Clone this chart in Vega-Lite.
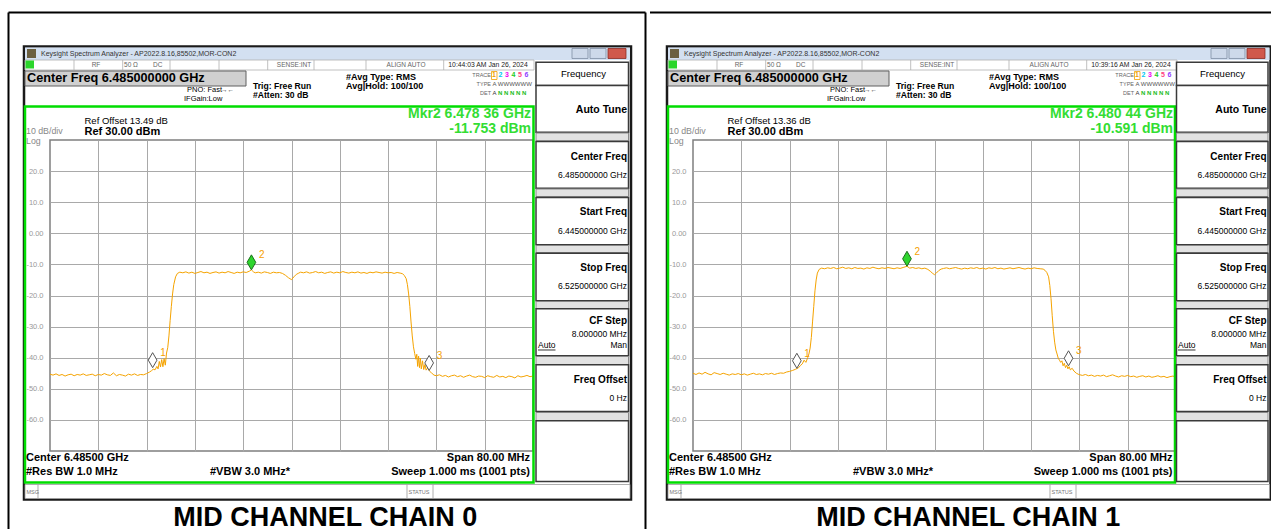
{
"$schema": "https://vega.github.io/schema/vega-lite/v6.json",
"padding": 0,
"spacing": 0,
"bounds": "full",
"background": "white",
"config": {
  "view": {"stroke": "#7f7f7f", "strokeWidth": 1.5},
  "text": {"font": "Liberation Sans", "baseline": "middle", "align": "left", "color": "black", "fontSize": 9}
},
"datasets": {
  "one": [{}],
  "markers": [
    {"chain":0,"mkr":"1","freq":6462.0,"dbm":-43.2},
    {"chain":0,"mkr":"2","freq":6478.36,"dbm":-11.753},
    {"chain":0,"mkr":"3","freq":6507.8,"dbm":-44.1},
    {"chain":1,"mkr":"1","freq":6462.2,"dbm":-43.4},
    {"chain":1,"mkr":"2","freq":6480.44,"dbm":-10.591},
    {"chain":1,"mkr":"3","freq":6507.2,"dbm":-42.6}
  ],
  "trace": [
    {"chain":0,"freq":6445.0,"dbm":-45.3},{"chain":0,"freq":6445.5,"dbm":-45.6},{"chain":0,"freq":6446.0,"dbm":-45.2},{"chain":0,"freq":6446.5,"dbm":-45.7},
    {"chain":0,"freq":6447.0,"dbm":-45.4},{"chain":0,"freq":6447.5,"dbm":-45.9},{"chain":0,"freq":6448.0,"dbm":-45.5},{"chain":0,"freq":6448.5,"dbm":-45.3},
    {"chain":0,"freq":6449.0,"dbm":-45.8},{"chain":0,"freq":6449.5,"dbm":-45.4},{"chain":0,"freq":6450.0,"dbm":-45.6},{"chain":0,"freq":6450.5,"dbm":-45.2},
    {"chain":0,"freq":6451.0,"dbm":-45.7},{"chain":0,"freq":6451.5,"dbm":-45.5},{"chain":0,"freq":6452.0,"dbm":-45.3},{"chain":0,"freq":6452.5,"dbm":-45.8},
    {"chain":0,"freq":6453.0,"dbm":-45.4},{"chain":0,"freq":6453.5,"dbm":-45.6},{"chain":0,"freq":6454.0,"dbm":-45.1},{"chain":0,"freq":6454.5,"dbm":-45.5},
    {"chain":0,"freq":6455.0,"dbm":-45.7},{"chain":0,"freq":6455.5,"dbm":-44.9},{"chain":0,"freq":6456.0,"dbm":-45.8},{"chain":0,"freq":6456.5,"dbm":-45.4},
    {"chain":0,"freq":6457.0,"dbm":-45.6},{"chain":0,"freq":6457.5,"dbm":-45.9},{"chain":0,"freq":6458.0,"dbm":-45.3},{"chain":0,"freq":6458.5,"dbm":-45.6},
    {"chain":0,"freq":6459.0,"dbm":-45.2},{"chain":0,"freq":6459.5,"dbm":-45.7},{"chain":0,"freq":6460.0,"dbm":-45.4},{"chain":0,"freq":6460.5,"dbm":-45.5},
    {"chain":0,"freq":6461.0,"dbm":-45.1},{"chain":0,"freq":6461.5,"dbm":-44.6},{"chain":0,"freq":6461.8,"dbm":-44.2},{"chain":0,"freq":6462.1,"dbm":-43.7},
    {"chain":0,"freq":6462.4,"dbm":-43.9},{"chain":0,"freq":6462.7,"dbm":-42.8},{"chain":0,"freq":6462.9,"dbm":-43.6},{"chain":0,"freq":6463.1,"dbm":-41.2},
    {"chain":0,"freq":6463.3,"dbm":-43.0},{"chain":0,"freq":6463.5,"dbm":-40.6},{"chain":0,"freq":6463.7,"dbm":-42.9},{"chain":0,"freq":6463.9,"dbm":-40.3},
    {"chain":0,"freq":6464.1,"dbm":-42.4},{"chain":0,"freq":6464.3,"dbm":-38.5},{"chain":0,"freq":6464.5,"dbm":-36.8},{"chain":0,"freq":6464.7,"dbm":-33.0},
    {"chain":0,"freq":6464.9,"dbm":-28.0},{"chain":0,"freq":6465.1,"dbm":-23.5},{"chain":0,"freq":6465.3,"dbm":-19.5},{"chain":0,"freq":6465.5,"dbm":-16.5},
    {"chain":0,"freq":6465.8,"dbm":-14.0},{"chain":0,"freq":6466.1,"dbm":-12.9},{"chain":0,"freq":6466.5,"dbm":-12.5},{"chain":0,"freq":6467.0,"dbm":-12.7},
    {"chain":0,"freq":6467.5,"dbm":-12.4},{"chain":0,"freq":6468.0,"dbm":-12.8},{"chain":0,"freq":6468.5,"dbm":-12.5},{"chain":0,"freq":6469.0,"dbm":-12.9},
    {"chain":0,"freq":6469.5,"dbm":-12.6},{"chain":0,"freq":6470.0,"dbm":-12.3},{"chain":0,"freq":6470.5,"dbm":-12.7},{"chain":0,"freq":6471.0,"dbm":-12.5},
    {"chain":0,"freq":6471.5,"dbm":-12.9},{"chain":0,"freq":6472.0,"dbm":-12.6},{"chain":0,"freq":6472.5,"dbm":-12.4},{"chain":0,"freq":6473.0,"dbm":-12.8},
    {"chain":0,"freq":6473.5,"dbm":-12.5},{"chain":0,"freq":6474.0,"dbm":-12.7},{"chain":0,"freq":6474.5,"dbm":-12.3},{"chain":0,"freq":6475.0,"dbm":-12.6},
    {"chain":0,"freq":6475.5,"dbm":-12.9},{"chain":0,"freq":6476.0,"dbm":-12.5},{"chain":0,"freq":6476.5,"dbm":-12.7},{"chain":0,"freq":6477.0,"dbm":-12.4},
    {"chain":0,"freq":6477.5,"dbm":-12.6},{"chain":0,"freq":6478.0,"dbm":-12.2},{"chain":0,"freq":6478.36,"dbm":-11.75},{"chain":0,"freq":6478.7,"dbm":-12.4},
    {"chain":0,"freq":6479.0,"dbm":-12.7},{"chain":0,"freq":6479.5,"dbm":-12.5},{"chain":0,"freq":6480.0,"dbm":-12.8},{"chain":0,"freq":6480.5,"dbm":-12.4},
    {"chain":0,"freq":6481.0,"dbm":-12.6},{"chain":0,"freq":6481.5,"dbm":-12.9},{"chain":0,"freq":6482.0,"dbm":-12.5},{"chain":0,"freq":6482.5,"dbm":-12.7},
    {"chain":0,"freq":6483.0,"dbm":-12.6},{"chain":0,"freq":6483.5,"dbm":-12.9},{"chain":0,"freq":6484.0,"dbm":-13.5},{"chain":0,"freq":6484.5,"dbm":-14.3},
    {"chain":0,"freq":6485.0,"dbm":-14.9},{"chain":0,"freq":6485.4,"dbm":-14.0},{"chain":0,"freq":6485.8,"dbm":-13.2},{"chain":0,"freq":6486.2,"dbm":-12.8},
    {"chain":0,"freq":6486.5,"dbm":-12.5},{"chain":0,"freq":6487.0,"dbm":-12.7},{"chain":0,"freq":6487.5,"dbm":-12.4},{"chain":0,"freq":6488.0,"dbm":-12.8},
    {"chain":0,"freq":6488.5,"dbm":-12.6},{"chain":0,"freq":6489.0,"dbm":-12.3},{"chain":0,"freq":6489.5,"dbm":-12.7},{"chain":0,"freq":6490.0,"dbm":-12.5},
    {"chain":0,"freq":6490.5,"dbm":-12.9},{"chain":0,"freq":6491.0,"dbm":-12.6},{"chain":0,"freq":6491.5,"dbm":-12.4},{"chain":0,"freq":6492.0,"dbm":-12.8},
    {"chain":0,"freq":6492.5,"dbm":-12.5},{"chain":0,"freq":6493.0,"dbm":-12.7},{"chain":0,"freq":6493.5,"dbm":-12.3},{"chain":0,"freq":6494.0,"dbm":-12.6},
    {"chain":0,"freq":6494.5,"dbm":-12.8},{"chain":0,"freq":6495.0,"dbm":-12.5},{"chain":0,"freq":6495.5,"dbm":-12.7},{"chain":0,"freq":6496.0,"dbm":-12.4},
    {"chain":0,"freq":6496.5,"dbm":-12.8},{"chain":0,"freq":6497.0,"dbm":-12.6},{"chain":0,"freq":6497.5,"dbm":-12.9},{"chain":0,"freq":6498.0,"dbm":-12.5},
    {"chain":0,"freq":6498.5,"dbm":-12.7},{"chain":0,"freq":6499.0,"dbm":-12.4},{"chain":0,"freq":6499.5,"dbm":-12.6},{"chain":0,"freq":6500.0,"dbm":-12.8},
    {"chain":0,"freq":6500.5,"dbm":-12.5},{"chain":0,"freq":6501.0,"dbm":-12.7},{"chain":0,"freq":6501.5,"dbm":-12.6},{"chain":0,"freq":6502.0,"dbm":-12.9},
    {"chain":0,"freq":6502.5,"dbm":-12.6},{"chain":0,"freq":6503.0,"dbm":-12.8},{"chain":0,"freq":6503.4,"dbm":-13.0},{"chain":0,"freq":6503.7,"dbm":-13.6},
    {"chain":0,"freq":6504.0,"dbm":-14.6},{"chain":0,"freq":6504.2,"dbm":-16.5},{"chain":0,"freq":6504.4,"dbm":-19.5},{"chain":0,"freq":6504.6,"dbm":-23.5},
    {"chain":0,"freq":6504.8,"dbm":-28.5},{"chain":0,"freq":6505.0,"dbm":-33.0},{"chain":0,"freq":6505.2,"dbm":-36.5},{"chain":0,"freq":6505.4,"dbm":-38.6},
    {"chain":0,"freq":6505.6,"dbm":-40.5},{"chain":0,"freq":6505.75,"dbm":-38.9},{"chain":0,"freq":6505.9,"dbm":-42.8},{"chain":0,"freq":6506.05,"dbm":-39.5},
    {"chain":0,"freq":6506.2,"dbm":-43.2},{"chain":0,"freq":6506.35,"dbm":-40.2},{"chain":0,"freq":6506.5,"dbm":-43.6},{"chain":0,"freq":6506.7,"dbm":-41.0},
    {"chain":0,"freq":6506.9,"dbm":-43.8},{"chain":0,"freq":6507.1,"dbm":-42.2},{"chain":0,"freq":6507.3,"dbm":-44.0},{"chain":0,"freq":6507.6,"dbm":-43.2},
    {"chain":0,"freq":6507.9,"dbm":-44.4},{"chain":0,"freq":6508.2,"dbm":-44.9},{"chain":0,"freq":6508.6,"dbm":-45.6},{"chain":0,"freq":6509.0,"dbm":-45.8},
    {"chain":0,"freq":6509.5,"dbm":-45.5},{"chain":0,"freq":6510.0,"dbm":-46.0},{"chain":0,"freq":6510.5,"dbm":-45.7},{"chain":0,"freq":6511.0,"dbm":-46.2},
    {"chain":0,"freq":6511.5,"dbm":-45.8},{"chain":0,"freq":6512.0,"dbm":-45.6},{"chain":0,"freq":6512.5,"dbm":-46.1},{"chain":0,"freq":6513.0,"dbm":-45.8},
    {"chain":0,"freq":6513.5,"dbm":-46.3},{"chain":0,"freq":6514.0,"dbm":-45.9},{"chain":0,"freq":6514.5,"dbm":-45.6},{"chain":0,"freq":6515.0,"dbm":-46.1},
    {"chain":0,"freq":6515.5,"dbm":-46.3},{"chain":0,"freq":6516.0,"dbm":-45.9},{"chain":0,"freq":6516.5,"dbm":-46.0},{"chain":0,"freq":6517.0,"dbm":-46.4},
    {"chain":0,"freq":6517.5,"dbm":-45.8},{"chain":0,"freq":6518.0,"dbm":-46.1},{"chain":0,"freq":6518.5,"dbm":-46.3},{"chain":0,"freq":6519.0,"dbm":-45.7},
    {"chain":0,"freq":6519.5,"dbm":-46.2},{"chain":0,"freq":6520.0,"dbm":-46.0},{"chain":0,"freq":6520.5,"dbm":-46.4},{"chain":0,"freq":6521.0,"dbm":-45.9},
    {"chain":0,"freq":6521.5,"dbm":-46.1},{"chain":0,"freq":6522.0,"dbm":-46.5},{"chain":0,"freq":6522.5,"dbm":-45.8},{"chain":0,"freq":6523.0,"dbm":-46.2},
    {"chain":0,"freq":6523.5,"dbm":-46.0},{"chain":0,"freq":6524.0,"dbm":-45.7},{"chain":0,"freq":6524.5,"dbm":-46.1},{"chain":0,"freq":6525.0,"dbm":-45.9},

    {"chain":1,"freq":6445.0,"dbm":-45.0},{"chain":1,"freq":6445.5,"dbm":-45.4},{"chain":1,"freq":6446.0,"dbm":-44.9},{"chain":1,"freq":6446.5,"dbm":-45.3},
    {"chain":1,"freq":6447.0,"dbm":-44.7},{"chain":1,"freq":6447.5,"dbm":-45.2},{"chain":1,"freq":6448.0,"dbm":-45.5},{"chain":1,"freq":6448.5,"dbm":-44.8},
    {"chain":1,"freq":6449.0,"dbm":-45.1},{"chain":1,"freq":6449.5,"dbm":-45.4},{"chain":1,"freq":6450.0,"dbm":-45.0},{"chain":1,"freq":6450.5,"dbm":-45.3},
    {"chain":1,"freq":6451.0,"dbm":-45.6},{"chain":1,"freq":6451.5,"dbm":-45.2},{"chain":1,"freq":6452.0,"dbm":-45.4},{"chain":1,"freq":6452.5,"dbm":-45.1},
    {"chain":1,"freq":6453.0,"dbm":-45.5},{"chain":1,"freq":6453.5,"dbm":-45.2},{"chain":1,"freq":6454.0,"dbm":-45.6},{"chain":1,"freq":6454.5,"dbm":-45.3},
    {"chain":1,"freq":6455.0,"dbm":-45.0},{"chain":1,"freq":6455.5,"dbm":-45.4},{"chain":1,"freq":6456.0,"dbm":-45.2},{"chain":1,"freq":6456.5,"dbm":-45.5},
    {"chain":1,"freq":6457.0,"dbm":-45.1},{"chain":1,"freq":6457.5,"dbm":-45.3},{"chain":1,"freq":6458.0,"dbm":-45.0},{"chain":1,"freq":6458.5,"dbm":-45.4},
    {"chain":1,"freq":6459.0,"dbm":-45.1},{"chain":1,"freq":6459.5,"dbm":-44.9},{"chain":1,"freq":6460.0,"dbm":-45.0},{"chain":1,"freq":6460.5,"dbm":-44.6},
    {"chain":1,"freq":6461.0,"dbm":-44.4},{"chain":1,"freq":6461.5,"dbm":-44.1},{"chain":1,"freq":6462.0,"dbm":-43.7},{"chain":1,"freq":6462.5,"dbm":-43.2},
    {"chain":1,"freq":6462.8,"dbm":-42.5},{"chain":1,"freq":6463.1,"dbm":-42.0},{"chain":1,"freq":6463.4,"dbm":-40.8},{"chain":1,"freq":6463.7,"dbm":-41.5},
    {"chain":1,"freq":6464.0,"dbm":-40.0},{"chain":1,"freq":6464.2,"dbm":-38.8},{"chain":1,"freq":6464.4,"dbm":-36.9},{"chain":1,"freq":6464.6,"dbm":-33.5},
    {"chain":1,"freq":6464.8,"dbm":-28.5},{"chain":1,"freq":6465.0,"dbm":-23.5},{"chain":1,"freq":6465.2,"dbm":-18.5},{"chain":1,"freq":6465.4,"dbm":-15.0},
    {"chain":1,"freq":6465.6,"dbm":-12.8},{"chain":1,"freq":6465.9,"dbm":-11.6},{"chain":1,"freq":6466.3,"dbm":-11.2},{"chain":1,"freq":6466.8,"dbm":-11.4},
    {"chain":1,"freq":6467.3,"dbm":-11.1},{"chain":1,"freq":6467.8,"dbm":-11.3},{"chain":1,"freq":6468.3,"dbm":-11.0},{"chain":1,"freq":6468.8,"dbm":-11.4},
    {"chain":1,"freq":6469.3,"dbm":-11.2},{"chain":1,"freq":6469.8,"dbm":-10.9},{"chain":1,"freq":6470.3,"dbm":-11.3},{"chain":1,"freq":6470.8,"dbm":-11.1},
    {"chain":1,"freq":6471.3,"dbm":-11.4},{"chain":1,"freq":6471.8,"dbm":-11.0},{"chain":1,"freq":6472.3,"dbm":-11.3},{"chain":1,"freq":6472.8,"dbm":-11.2},
    {"chain":1,"freq":6473.3,"dbm":-11.5},{"chain":1,"freq":6473.8,"dbm":-11.1},{"chain":1,"freq":6474.3,"dbm":-11.3},{"chain":1,"freq":6474.8,"dbm":-10.9},
    {"chain":1,"freq":6475.3,"dbm":-11.2},{"chain":1,"freq":6475.8,"dbm":-11.4},{"chain":1,"freq":6476.3,"dbm":-11.1},{"chain":1,"freq":6476.8,"dbm":-11.3},
    {"chain":1,"freq":6477.3,"dbm":-11.0},{"chain":1,"freq":6477.8,"dbm":-11.2},{"chain":1,"freq":6478.3,"dbm":-11.4},{"chain":1,"freq":6478.8,"dbm":-11.1},
    {"chain":1,"freq":6479.3,"dbm":-11.3},{"chain":1,"freq":6479.8,"dbm":-11.0},{"chain":1,"freq":6480.44,"dbm":-10.6},{"chain":1,"freq":6480.9,"dbm":-11.2},
    {"chain":1,"freq":6481.4,"dbm":-11.0},{"chain":1,"freq":6481.9,"dbm":-11.3},{"chain":1,"freq":6482.4,"dbm":-11.1},{"chain":1,"freq":6482.9,"dbm":-11.4},
    {"chain":1,"freq":6483.4,"dbm":-11.2},{"chain":1,"freq":6483.9,"dbm":-11.6},{"chain":1,"freq":6484.3,"dbm":-12.2},{"chain":1,"freq":6484.7,"dbm":-12.9},
    {"chain":1,"freq":6485.0,"dbm":-13.3},{"chain":1,"freq":6485.3,"dbm":-12.8},{"chain":1,"freq":6485.7,"dbm":-12.0},{"chain":1,"freq":6486.1,"dbm":-11.5},
    {"chain":1,"freq":6486.5,"dbm":-11.3},{"chain":1,"freq":6487.0,"dbm":-11.1},{"chain":1,"freq":6487.5,"dbm":-11.4},{"chain":1,"freq":6488.0,"dbm":-11.2},
    {"chain":1,"freq":6488.5,"dbm":-11.0},{"chain":1,"freq":6489.0,"dbm":-11.3},{"chain":1,"freq":6489.5,"dbm":-11.5},{"chain":1,"freq":6490.0,"dbm":-11.2},
    {"chain":1,"freq":6490.5,"dbm":-11.4},{"chain":1,"freq":6491.0,"dbm":-11.1},{"chain":1,"freq":6491.5,"dbm":-11.3},{"chain":1,"freq":6492.0,"dbm":-11.0},
    {"chain":1,"freq":6492.5,"dbm":-11.4},{"chain":1,"freq":6493.0,"dbm":-11.2},{"chain":1,"freq":6493.5,"dbm":-11.5},{"chain":1,"freq":6494.0,"dbm":-11.1},
    {"chain":1,"freq":6494.5,"dbm":-11.3},{"chain":1,"freq":6495.0,"dbm":-11.0},{"chain":1,"freq":6495.5,"dbm":-11.4},{"chain":1,"freq":6496.0,"dbm":-11.2},
    {"chain":1,"freq":6496.5,"dbm":-11.5},{"chain":1,"freq":6497.0,"dbm":-11.3},{"chain":1,"freq":6497.5,"dbm":-11.1},{"chain":1,"freq":6498.0,"dbm":-11.4},
    {"chain":1,"freq":6498.5,"dbm":-11.2},{"chain":1,"freq":6499.0,"dbm":-11.0},{"chain":1,"freq":6499.5,"dbm":-11.3},{"chain":1,"freq":6500.0,"dbm":-11.5},
    {"chain":1,"freq":6500.5,"dbm":-11.2},{"chain":1,"freq":6501.0,"dbm":-11.4},{"chain":1,"freq":6501.5,"dbm":-11.1},{"chain":1,"freq":6502.0,"dbm":-11.3},
    {"chain":1,"freq":6502.5,"dbm":-11.4},{"chain":1,"freq":6503.0,"dbm":-11.5},{"chain":1,"freq":6503.3,"dbm":-11.9},{"chain":1,"freq":6503.6,"dbm":-12.6},
    {"chain":1,"freq":6503.9,"dbm":-14.0},{"chain":1,"freq":6504.1,"dbm":-16.8},{"chain":1,"freq":6504.3,"dbm":-21.0},{"chain":1,"freq":6504.5,"dbm":-26.5},
    {"chain":1,"freq":6504.7,"dbm":-31.5},{"chain":1,"freq":6504.9,"dbm":-35.0},{"chain":1,"freq":6505.1,"dbm":-37.5},{"chain":1,"freq":6505.3,"dbm":-38.8},
    {"chain":1,"freq":6505.5,"dbm":-40.2},{"chain":1,"freq":6505.7,"dbm":-40.8},{"chain":1,"freq":6505.9,"dbm":-41.5},{"chain":1,"freq":6506.1,"dbm":-41.0},
    {"chain":1,"freq":6506.3,"dbm":-42.6},{"chain":1,"freq":6506.5,"dbm":-41.8},{"chain":1,"freq":6506.7,"dbm":-43.2},{"chain":1,"freq":6506.9,"dbm":-42.4},
    {"chain":1,"freq":6507.1,"dbm":-43.6},{"chain":1,"freq":6507.3,"dbm":-42.9},{"chain":1,"freq":6507.5,"dbm":-43.9},{"chain":1,"freq":6507.8,"dbm":-43.4},
    {"chain":1,"freq":6508.1,"dbm":-44.3},{"chain":1,"freq":6508.5,"dbm":-45.0},{"chain":1,"freq":6508.9,"dbm":-45.4},{"chain":1,"freq":6509.5,"dbm":-45.7},
    {"chain":1,"freq":6510.0,"dbm":-45.4},{"chain":1,"freq":6510.5,"dbm":-45.8},{"chain":1,"freq":6511.0,"dbm":-45.6},{"chain":1,"freq":6511.5,"dbm":-46.0},
    {"chain":1,"freq":6512.0,"dbm":-45.7},{"chain":1,"freq":6512.5,"dbm":-45.9},{"chain":1,"freq":6513.0,"dbm":-45.6},{"chain":1,"freq":6513.5,"dbm":-46.1},
    {"chain":1,"freq":6514.0,"dbm":-45.8},{"chain":1,"freq":6514.5,"dbm":-45.5},{"chain":1,"freq":6515.0,"dbm":-45.9},{"chain":1,"freq":6515.5,"dbm":-46.2},
    {"chain":1,"freq":6516.0,"dbm":-45.8},{"chain":1,"freq":6516.5,"dbm":-46.0},{"chain":1,"freq":6517.0,"dbm":-45.7},{"chain":1,"freq":6517.5,"dbm":-46.1},
    {"chain":1,"freq":6518.0,"dbm":-45.9},{"chain":1,"freq":6518.5,"dbm":-46.3},{"chain":1,"freq":6519.0,"dbm":-46.0},{"chain":1,"freq":6519.5,"dbm":-45.8},
    {"chain":1,"freq":6520.0,"dbm":-46.2},{"chain":1,"freq":6520.5,"dbm":-45.9},{"chain":1,"freq":6521.0,"dbm":-46.3},{"chain":1,"freq":6521.5,"dbm":-46.1},
    {"chain":1,"freq":6522.0,"dbm":-45.8},{"chain":1,"freq":6522.5,"dbm":-46.2},{"chain":1,"freq":6523.0,"dbm":-46.0},{"chain":1,"freq":6523.5,"dbm":-46.4},
    {"chain":1,"freq":6524.0,"dbm":-46.1},{"chain":1,"freq":6524.5,"dbm":-45.9},{"chain":1,"freq":6525.0,"dbm":-46.2}
  ]
},
"hconcat": [
{
  "width": 483, "height": 311,
  "resolve": {"axis": {"x": "independent", "y": "independent"}},
  "layer": [
    {"data":{"name":"trace"},"transform":[{"filter":"datum.chain == 0"}],"mark":{"type":"line","color":"#f5a300","strokeWidth":1,"clip":true},
     "encoding":{
       "x":{"field":"freq","type":"quantitative","scale":{"domain":[6445,6525],"nice":false,"zero":false},"axis":{"title":null,"orient":"bottom","values":[6453,6461,6469,6477,6485,6493,6501,6509,6517],"grid":true,"labels":false,"ticks":false,"domain":false,"gridColor":"#a9a9a9","gridWidth":1}},
       "y":{"field":"dbm","type":"quantitative","scale":{"domain":[-70,30],"nice":false,"zero":false},"axis":{"title":null,"orient":"left","values":[-60,-50,-40,-30,-20,-10,0,10,20],"grid":true,"ticks":false,"domain":false,"gridColor":"#a9a9a9","gridWidth":1,"labelExpr":"datum.value == 0 ? '0.00' : (datum.value < 0 ? '-' : '') + format(abs(datum.value), '.1f')","labelColor":"#999","labelFontSize":7.5,"labelFont":"Liberation Sans","labelPadding":7}}
     }},
    {"data":{"name":"one"},"mark":{"type":"rect","fill":"white","opacity":0},"encoding":{"x":{"datum":6436.884,"type":"quantitative","axis":null},"x2":{"datum":6543.799},"y":{"datum":74.534,"type":"quantitative","axis":null},"y2":{"datum":-95.563}}},
    {"data":{"name":"one"},"mark":{"type":"rule","color":"black","strokeWidth":2},"encoding":{"x":{"datum":6438.126,"type":"quantitative","axis":null},"x2":{"datum":6543.633},"y":{"datum":70.997,"type":"quantitative","axis":null}}},
    {"data":{"name":"one"},"mark":{"type":"rule","color":"black","strokeWidth":2},"encoding":{"x":{"datum":6438.126,"type":"quantitative","axis":null},"y":{"datum":70.997,"type":"quantitative","axis":null},"y2":{"datum":-95.563}}},
    {"data":{"name":"one"},"mark":{"type":"rule","color":"black","strokeWidth":2},"encoding":{"x":{"datum":6543.633,"type":"quantitative","axis":null},"y":{"datum":70.997,"type":"quantitative","axis":null},"y2":{"datum":-95.563}}},
    {"data":{"name":"one"},"mark":{"type":"rect","fill":"white","fillOpacity":0,"stroke":"#1a1a1a","strokeWidth":2.5},"encoding":{"x":{"datum":6440.694,"type":"quantitative","axis":null},"x2":{"datum":6541.232},"y":{"datum":60.064,"type":"quantitative","axis":null},"y2":{"datum":-85.595}}},
    {"data":{"name":"one"},"mark":{"type":"rect","fill":"#d3e0f1"},"encoding":{"x":{"datum":6440.859,"type":"quantitative","axis":null},"x2":{"datum":6541.066},"y":{"datum":59.743,"type":"quantitative","axis":null},"y2":{"datum":55.723}}},
    {"data":{"name":"one"},"mark":{"type":"rect","fill":"#6b6040"},"encoding":{"x":{"datum":6441.19,"type":"quantitative","axis":null},"x2":{"datum":6442.681},"y":{"datum":59.26,"type":"quantitative","axis":null},"y2":{"datum":56.367}}},
    {"data":{"name":"one"},"mark":{"type":"text","text":"Keysight Spectrum Analyzer - AP2022.8.16,85502,MOR-CON2","fontSize":7,"color":"#333"},"encoding":{"x":{"datum":6443.509,"type":"quantitative","axis":null},"y":{"datum":57.653,"type":"quantitative","axis":null}}},
    {"data":{"name":"one"},"mark":{"type":"rect","fill":"#cdd9ea","stroke":"#7f8ea3","strokeWidth":0.8},"encoding":{"x":{"datum":6531.459,"type":"quantitative","axis":null},"x2":{"datum":6534.109},"y":{"datum":59.421,"type":"quantitative","axis":null},"y2":{"datum":56.206}}},
    {"data":{"name":"one"},"mark":{"type":"rect","fill":"#cdd9ea","stroke":"#7f8ea3","strokeWidth":0.8},"encoding":{"x":{"datum":6534.441,"type":"quantitative","axis":null},"x2":{"datum":6537.091},"y":{"datum":59.421,"type":"quantitative","axis":null},"y2":{"datum":56.206}}},
    {"data":{"name":"one"},"mark":{"type":"rect","fill":"#d0584c","stroke":"#8b2a22","strokeWidth":0.8},"encoding":{"x":{"datum":6537.422,"type":"quantitative","axis":null},"x2":{"datum":6540.403},"y":{"datum":59.421,"type":"quantitative","axis":null},"y2":{"datum":56.206}}},
    {"data":{"name":"one"},"mark":{"type":"rect","fill":"white","stroke":"#b0b0b0","strokeWidth":0.8},"encoding":{"x":{"datum":6440.859,"type":"quantitative","axis":null},"x2":{"datum":6525.166},"y":{"datum":55.723,"type":"quantitative","axis":null},"y2":{"datum":52.508}}},
    {"data":{"name":"one"},"mark":{"type":"rect","fill":"#2bd62b"},"encoding":{"x":{"datum":6440.942,"type":"quantitative","axis":null},"x2":{"datum":6442.35},"y":{"datum":55.563,"type":"quantitative","axis":null},"y2":{"datum":52.991}}},
    {"data":{"name":"one"},"mark":{"type":"rule","color":"#b0b0b0","strokeWidth":0.8},"encoding":{"x":{"datum":6448.975,"type":"quantitative","axis":null},"y":{"datum":55.723,"type":"quantitative","axis":null},"y2":{"datum":52.508}}},
    {"data":{"name":"one"},"mark":{"type":"rule","color":"#b0b0b0","strokeWidth":0.8},"encoding":{"x":{"datum":6457.041,"type":"quantitative","axis":null},"y":{"datum":55.723,"type":"quantitative","axis":null},"y2":{"datum":52.508}}},
    {"data":{"name":"one"},"mark":{"type":"rule","color":"#b0b0b0","strokeWidth":0.8},"encoding":{"x":{"datum":6464.876,"type":"quantitative","axis":null},"y":{"datum":55.723,"type":"quantitative","axis":null},"y2":{"datum":52.508}}},
    {"data":{"name":"one"},"mark":{"type":"rule","color":"#b0b0b0","strokeWidth":0.8},"encoding":{"x":{"datum":6472.992,"type":"quantitative","axis":null},"y":{"datum":55.723,"type":"quantitative","axis":null},"y2":{"datum":52.508}}},
    {"data":{"name":"one"},"mark":{"type":"rule","color":"#b0b0b0","strokeWidth":0.8},"encoding":{"x":{"datum":6481.058,"type":"quantitative","axis":null},"y":{"datum":55.723,"type":"quantitative","axis":null},"y2":{"datum":52.508}}},
    {"data":{"name":"one"},"mark":{"type":"rule","color":"#b0b0b0","strokeWidth":0.8},"encoding":{"x":{"datum":6488.727,"type":"quantitative","axis":null},"y":{"datum":55.723,"type":"quantitative","axis":null},"y2":{"datum":52.508}}},
    {"data":{"name":"one"},"mark":{"type":"rule","color":"#b0b0b0","strokeWidth":0.8},"encoding":{"x":{"datum":6497.339,"type":"quantitative","axis":null},"y":{"datum":55.723,"type":"quantitative","axis":null},"y2":{"datum":52.508}}},
    {"data":{"name":"one"},"mark":{"type":"rule","color":"#b0b0b0","strokeWidth":0.8},"encoding":{"x":{"datum":6510.209,"type":"quantitative","axis":null},"y":{"datum":55.723,"type":"quantitative","axis":null},"y2":{"datum":52.508}}},
    {"data":{"name":"one"},"mark":{"type":"text","text":"RF","align":"center","fontSize":6.5,"color":"#666"},"encoding":{"x":{"datum":6452.619,"type":"quantitative","axis":null},"y":{"datum":54.116,"type":"quantitative","axis":null}}},
    {"data":{"name":"one"},"mark":{"type":"text","text":"50 Ω","align":"center","fontSize":6.5,"color":"#666"},"encoding":{"x":{"datum":6458.416,"type":"quantitative","axis":null},"y":{"datum":54.116,"type":"quantitative","axis":null}}},
    {"data":{"name":"one"},"mark":{"type":"text","text":"DC","align":"center","fontSize":6.5,"color":"#666"},"encoding":{"x":{"datum":6462.838,"type":"quantitative","axis":null},"y":{"datum":54.116,"type":"quantitative","axis":null}}},
    {"data":{"name":"one"},"mark":{"type":"text","text":"SENSE:INT","align":"center","fontSize":6.5,"color":"#666"},"encoding":{"x":{"datum":6485.414,"type":"quantitative","axis":null},"y":{"datum":54.116,"type":"quantitative","axis":null}}},
    {"data":{"name":"one"},"mark":{"type":"text","text":"ALIGN AUTO","align":"center","fontSize":6.5,"color":"#666"},"encoding":{"x":{"datum":6503.965,"type":"quantitative","axis":null},"y":{"datum":54.116,"type":"quantitative","axis":null}}},
    {"data":{"name":"one"},"mark":{"type":"text","text":"10:44:03 AM Jan 26, 2024","align":"center","fontSize":6.8,"color":"#222"},"encoding":{"x":{"datum":6517.546,"type":"quantitative","axis":null},"y":{"datum":54.116,"type":"quantitative","axis":null}}},
    {"data":{"name":"one"},"mark":{"type":"rect","fill":"#d0d0d0","stroke":"#606060","strokeWidth":1},"encoding":{"x":{"datum":6440.859,"type":"quantitative","axis":null},"x2":{"datum":6477.464},"y":{"datum":52.187,"type":"quantitative","axis":null},"y2":{"datum":47.363}}},
    {"data":{"name":"one"},"mark":{"type":"text","text":"Center Freq 6.485000000 GHz","fontSize":12.7,"fontWeight":"bold"},"encoding":{"x":{"datum":6441.19,"type":"quantitative","axis":null},"y":{"datum":49.775,"type":"quantitative","axis":null}}},
    {"data":{"name":"one"},"mark":{"type":"text","text":"PNO: Fast","fontSize":7.5},"encoding":{"x":{"datum":6467.691,"type":"quantitative","axis":null},"y":{"datum":46.077,"type":"quantitative","axis":null}}},
    {"data":{"name":"one"},"mark":{"type":"text","text":"→←","fontSize":6.5,"color":"#333"},"encoding":{"x":{"datum":6473.323,"type":"quantitative","axis":null},"y":{"datum":46.077,"type":"quantitative","axis":null}}},
    {"data":{"name":"one"},"mark":{"type":"text","text":"IFGain:Low","fontSize":7.5},"encoding":{"x":{"datum":6467.195,"type":"quantitative","axis":null},"y":{"datum":43.344,"type":"quantitative","axis":null}}},
    {"data":{"name":"one"},"mark":{"type":"text","text":"Trig: Free Run","fontSize":8.6,"fontWeight":"bold"},"encoding":{"x":{"datum":6478.623,"type":"quantitative","axis":null},"y":{"datum":47.203,"type":"quantitative","axis":null}}},
    {"data":{"name":"one"},"mark":{"type":"text","text":"#Atten: 30 dB","fontSize":8.6,"fontWeight":"bold"},"encoding":{"x":{"datum":6478.623,"type":"quantitative","axis":null},"y":{"datum":44.469,"type":"quantitative","axis":null}}},
    {"data":{"name":"one"},"mark":{"type":"text","text":"#Avg Type: RMS","fontSize":9,"fontWeight":"bold"},"encoding":{"x":{"datum":6494.027,"type":"quantitative","axis":null},"y":{"datum":50.418,"type":"quantitative","axis":null}}},
    {"data":{"name":"one"},"mark":{"type":"text","text":"Avg|Hold: 100/100","fontSize":9,"fontWeight":"bold"},"encoding":{"x":{"datum":6494.027,"type":"quantitative","axis":null},"y":{"datum":47.524,"type":"quantitative","axis":null}}},
    {"data":{"name":"one"},"mark":{"type":"text","text":"TRACE","align":"right","fontSize":5.5,"color":"#666"},"encoding":{"x":{"datum":6518.043,"type":"quantitative","axis":null},"y":{"datum":50.74,"type":"quantitative","axis":null}}},
    {"data":{"name":"one"},"mark":{"type":"text","text":"TYPE","align":"right","fontSize":5.5,"color":"#666"},"encoding":{"x":{"datum":6518.043,"type":"quantitative","axis":null},"y":{"datum":48.006,"type":"quantitative","axis":null}}},
    {"data":{"name":"one"},"mark":{"type":"text","text":"DET","align":"right","fontSize":5.5,"color":"#666"},"encoding":{"x":{"datum":6518.043,"type":"quantitative","axis":null},"y":{"datum":45.273,"type":"quantitative","axis":null}}},
    {"data":{"name":"one"},"mark":{"type":"rect","fill":"white","fillOpacity":0,"stroke":"#f0a000","strokeWidth":0.8},"encoding":{"x":{"datum":6518.126,"type":"quantitative","axis":null},"x2":{"datum":6519.037},"y":{"datum":52.026,"type":"quantitative","axis":null},"y2":{"datum":49.453}}},
    {"data":{"name":"one"},"mark":{"type":"text","text":"1","align":"center","fontSize":7,"fontWeight":"bold","color":"#f0a000"},"encoding":{"x":{"datum":6518.541,"type":"quantitative","axis":null},"y":{"datum":50.74,"type":"quantitative","axis":null}}},
    {"data":{"name":"one"},"mark":{"type":"text","text":"2","align":"center","fontSize":7,"fontWeight":"bold","color":"#00c8f0"},"encoding":{"x":{"datum":6519.617,"type":"quantitative","axis":null},"y":{"datum":50.74,"type":"quantitative","axis":null}}},
    {"data":{"name":"one"},"mark":{"type":"text","text":"3","align":"center","fontSize":7,"fontWeight":"bold","color":"#f000f0"},"encoding":{"x":{"datum":6520.694,"type":"quantitative","axis":null},"y":{"datum":50.74,"type":"quantitative","axis":null}}},
    {"data":{"name":"one"},"mark":{"type":"text","text":"4","align":"center","fontSize":7,"fontWeight":"bold","color":"#22cc22"},"encoding":{"x":{"datum":6521.77,"type":"quantitative","axis":null},"y":{"datum":50.74,"type":"quantitative","axis":null}}},
    {"data":{"name":"one"},"mark":{"type":"text","text":"5","align":"center","fontSize":7,"fontWeight":"bold","color":"#ff4080"},"encoding":{"x":{"datum":6522.847,"type":"quantitative","axis":null},"y":{"datum":50.74,"type":"quantitative","axis":null}}},
    {"data":{"name":"one"},"mark":{"type":"text","text":"6","align":"center","fontSize":7,"fontWeight":"bold","color":"#9040ff"},"encoding":{"x":{"datum":6523.923,"type":"quantitative","axis":null},"y":{"datum":50.74,"type":"quantitative","axis":null}}},
    {"data":{"name":"one"},"mark":{"type":"text","text":"A WWWWWW","fontSize":6,"color":"#555"},"encoding":{"x":{"datum":6518.292,"type":"quantitative","axis":null},"y":{"datum":48.006,"type":"quantitative","axis":null}}},
    {"data":{"name":"one"},"mark":{"type":"text","text":"A","fontSize":6,"color":"#333"},"encoding":{"x":{"datum":6518.292,"type":"quantitative","axis":null},"y":{"datum":45.273,"type":"quantitative","axis":null}}},
    {"data":{"name":"one"},"mark":{"type":"text","text":"N N N N N","fontSize":6,"fontWeight":"bold","color":"#22bb22"},"encoding":{"x":{"datum":6519.203,"type":"quantitative","axis":null},"y":{"datum":45.273,"type":"quantitative","axis":null}}},
    {"data":{"name":"one"},"mark":{"type":"rect","fill":"white","fillOpacity":0,"stroke":"#00dd00","strokeWidth":2.5},"encoding":{"x":{"datum":6440.859,"type":"quantitative","axis":null},"x2":{"datum":6525.083},"y":{"datum":40.772,"type":"quantitative","axis":null},"y2":{"datum":-80.128}}},
    {"data":{"name":"one"},"mark":{"type":"text","text":"Ref Offset 13.49 dB","fontSize":9.5},"encoding":{"x":{"datum":6450.714,"type":"quantitative","axis":null},"y":{"datum":36.109,"type":"quantitative","axis":null}}},
    {"data":{"name":"one"},"mark":{"type":"text","text":"Ref 30.00 dBm","fontSize":11,"fontWeight":"bold"},"encoding":{"x":{"datum":6450.714,"type":"quantitative","axis":null},"y":{"datum":32.733,"type":"quantitative","axis":null}}},
    {"data":{"name":"one"},"mark":{"type":"text","text":"10 dB/div","fontSize":8.8,"color":"#888"},"encoding":{"x":{"datum":6441.025,"type":"quantitative","axis":null},"y":{"datum":32.894,"type":"quantitative","axis":null}}},
    {"data":{"name":"one"},"mark":{"type":"text","text":"Log","fontSize":8.8,"color":"#888"},"encoding":{"x":{"datum":6441.025,"type":"quantitative","axis":null},"y":{"datum":29.839,"type":"quantitative","axis":null}}},
    {"data":{"name":"one"},"mark":{"type":"text","text":"Mkr2 6.478 36 GHz","align":"right","fontSize":14,"fontWeight":"bold","color":"#33dd33"},"encoding":{"x":{"datum":6524.669,"type":"quantitative","axis":null},"y":{"datum":38.36,"type":"quantitative","axis":null}}},
    {"data":{"name":"one"},"mark":{"type":"text","text":"-11.753 dBm","align":"right","fontSize":14,"fontWeight":"bold","color":"#33dd33"},"encoding":{"x":{"datum":6524.669,"type":"quantitative","axis":null},"y":{"datum":33.537,"type":"quantitative","axis":null}}},
    {"data":{"name":"one"},"mark":{"type":"rect","fill":"white","stroke":"#3a3a3a","strokeWidth":1.5},"encoding":{"x":{"datum":6525.497,"type":"quantitative","axis":null},"x2":{"datum":6540.818},"y":{"datum":55.016,"type":"quantitative","axis":null},"y2":{"datum":47.524}}},
    {"data":{"name":"one"},"mark":{"type":"rect","fill":"white","stroke":"#3a3a3a","strokeWidth":1.5},"encoding":{"x":{"datum":6525.497,"type":"quantitative","axis":null},"x2":{"datum":6540.818},"y":{"datum":47.524,"type":"quantitative","axis":null},"y2":{"datum":32.508}}},
    {"data":{"name":"one"},"mark":{"type":"rect","fill":"#e2e2e2","stroke":"#888","strokeWidth":1},"encoding":{"x":{"datum":6525.497,"type":"quantitative","axis":null},"x2":{"datum":6540.818},"y":{"datum":32.251,"type":"quantitative","axis":null},"y2":{"datum":29.743}}},
    {"data":{"name":"one"},"mark":{"type":"rect","fill":"white","stroke":"#3a3a3a","strokeWidth":1.5},"encoding":{"x":{"datum":6525.497,"type":"quantitative","axis":null},"x2":{"datum":6540.818},"y":{"datum":29.518,"type":"quantitative","axis":null},"y2":{"datum":14.502}}},
    {"data":{"name":"one"},"mark":{"type":"rect","fill":"#e2e2e2","stroke":"#888","strokeWidth":1},"encoding":{"x":{"datum":6525.497,"type":"quantitative","axis":null},"x2":{"datum":6540.818},"y":{"datum":14.244,"type":"quantitative","axis":null},"y2":{"datum":11.833}}},
    {"data":{"name":"one"},"mark":{"type":"rect","fill":"white","stroke":"#3a3a3a","strokeWidth":1.5},"encoding":{"x":{"datum":6525.497,"type":"quantitative","axis":null},"x2":{"datum":6540.818},"y":{"datum":11.511,"type":"quantitative","axis":null},"y2":{"datum":-3.698}}},
    {"data":{"name":"one"},"mark":{"type":"rect","fill":"#e2e2e2","stroke":"#888","strokeWidth":1},"encoding":{"x":{"datum":6525.497,"type":"quantitative","axis":null},"x2":{"datum":6540.818},"y":{"datum":-3.923,"type":"quantitative","axis":null},"y2":{"datum":-6.174}}},
    {"data":{"name":"one"},"mark":{"type":"rect","fill":"white","stroke":"#3a3a3a","strokeWidth":1.5},"encoding":{"x":{"datum":6525.497,"type":"quantitative","axis":null},"x2":{"datum":6540.818},"y":{"datum":-6.399,"type":"quantitative","axis":null},"y2":{"datum":-21.704}}},
    {"data":{"name":"one"},"mark":{"type":"rect","fill":"#e2e2e2","stroke":"#888","strokeWidth":1},"encoding":{"x":{"datum":6525.497,"type":"quantitative","axis":null},"x2":{"datum":6540.818},"y":{"datum":-21.929,"type":"quantitative","axis":null},"y2":{"datum":-24.18}}},
    {"data":{"name":"one"},"mark":{"type":"rect","fill":"white","stroke":"#3a3a3a","strokeWidth":1.5},"encoding":{"x":{"datum":6525.497,"type":"quantitative","axis":null},"x2":{"datum":6540.818},"y":{"datum":-24.276,"type":"quantitative","axis":null},"y2":{"datum":-39.389}}},
    {"data":{"name":"one"},"mark":{"type":"rect","fill":"#e2e2e2","stroke":"#888","strokeWidth":1},"encoding":{"x":{"datum":6525.497,"type":"quantitative","axis":null},"x2":{"datum":6540.818},"y":{"datum":-39.614,"type":"quantitative","axis":null},"y2":{"datum":-42.186}}},
    {"data":{"name":"one"},"mark":{"type":"rect","fill":"white","stroke":"#3a3a3a","strokeWidth":1.5},"encoding":{"x":{"datum":6525.497,"type":"quantitative","axis":null},"x2":{"datum":6540.818},"y":{"datum":-42.283,"type":"quantitative","axis":null},"y2":{"datum":-57.299}}},
    {"data":{"name":"one"},"mark":{"type":"rect","fill":"#e2e2e2","stroke":"#888","strokeWidth":1},"encoding":{"x":{"datum":6525.497,"type":"quantitative","axis":null},"x2":{"datum":6540.818},"y":{"datum":-57.621,"type":"quantitative","axis":null},"y2":{"datum":-60.193}}},
    {"data":{"name":"one"},"mark":{"type":"rect","fill":"white","stroke":"#3a3a3a","strokeWidth":1.5},"encoding":{"x":{"datum":6525.497,"type":"quantitative","axis":null},"x2":{"datum":6540.818},"y":{"datum":-60.289,"type":"quantitative","axis":null},"y2":{"datum":-79.807}}},
    {"data":{"name":"one"},"mark":{"type":"text","text":"Frequency","align":"center","fontSize":9.5},"encoding":{"x":{"datum":6533.364,"type":"quantitative","axis":null},"y":{"datum":51.286,"type":"quantitative","axis":null}}},
    {"data":{"name":"one"},"mark":{"type":"text","text":"Auto Tune","align":"right","fontSize":10.5,"fontWeight":"bold"},"encoding":{"x":{"datum":6540.569,"type":"quantitative","axis":null},"y":{"datum":39.711,"type":"quantitative","axis":null}}},
    {"data":{"name":"one"},"mark":{"type":"text","text":"Center Freq","align":"right","fontSize":10,"fontWeight":"bold"},"encoding":{"x":{"datum":6540.569,"type":"quantitative","axis":null},"y":{"datum":24.694,"type":"quantitative","axis":null}}},
    {"data":{"name":"one"},"mark":{"type":"text","text":"6.485000000 GHz","align":"right","fontSize":8.5},"encoding":{"x":{"datum":6540.569,"type":"quantitative","axis":null},"y":{"datum":18.81,"type":"quantitative","axis":null}}},
    {"data":{"name":"one"},"mark":{"type":"text","text":"Start Freq","align":"right","fontSize":10,"fontWeight":"bold"},"encoding":{"x":{"datum":6540.569,"type":"quantitative","axis":null},"y":{"datum":6.785,"type":"quantitative","axis":null}}},
    {"data":{"name":"one"},"mark":{"type":"text","text":"6.445000000 GHz","align":"right","fontSize":8.5},"encoding":{"x":{"datum":6540.569,"type":"quantitative","axis":null},"y":{"datum":0.804,"type":"quantitative","axis":null}}},
    {"data":{"name":"one"},"mark":{"type":"text","text":"Stop Freq","align":"right","fontSize":10,"fontWeight":"bold"},"encoding":{"x":{"datum":6540.569,"type":"quantitative","axis":null},"y":{"datum":-10.997,"type":"quantitative","axis":null}}},
    {"data":{"name":"one"},"mark":{"type":"text","text":"6.525000000 GHz","align":"right","fontSize":8.5},"encoding":{"x":{"datum":6540.569,"type":"quantitative","axis":null},"y":{"datum":-16.785,"type":"quantitative","axis":null}}},
    {"data":{"name":"one"},"mark":{"type":"text","text":"CF Step","align":"right","fontSize":10,"fontWeight":"bold"},"encoding":{"x":{"datum":6540.569,"type":"quantitative","axis":null},"y":{"datum":-28.36,"type":"quantitative","axis":null}}},
    {"data":{"name":"one"},"mark":{"type":"text","text":"8.000000 MHz","align":"right","fontSize":8.5},"encoding":{"x":{"datum":6540.569,"type":"quantitative","axis":null},"y":{"datum":-32.315,"type":"quantitative","axis":null}}},
    {"data":{"name":"one"},"mark":{"type":"text","text":"Auto","fontSize":8.5},"encoding":{"x":{"datum":6525.828,"type":"quantitative","axis":null},"y":{"datum":-36.077,"type":"quantitative","axis":null}}},
    {"data":{"name":"one"},"mark":{"type":"rule","color":"black","strokeWidth":0.8},"encoding":{"x":{"datum":6525.828,"type":"quantitative","axis":null},"x2":{"datum":6528.726},"y":{"datum":-37.524,"type":"quantitative","axis":null}}},
    {"data":{"name":"one"},"mark":{"type":"text","text":"Man","align":"right","fontSize":8.5},"encoding":{"x":{"datum":6540.569,"type":"quantitative","axis":null},"y":{"datum":-36.077,"type":"quantitative","axis":null}}},
    {"data":{"name":"one"},"mark":{"type":"text","text":"Freq Offset","align":"right","fontSize":10,"fontWeight":"bold"},"encoding":{"x":{"datum":6540.569,"type":"quantitative","axis":null},"y":{"datum":-47.106,"type":"quantitative","axis":null}}},
    {"data":{"name":"one"},"mark":{"type":"text","text":"0 Hz","align":"right","fontSize":8.5},"encoding":{"x":{"datum":6540.569,"type":"quantitative","axis":null},"y":{"datum":-53.022,"type":"quantitative","axis":null}}},
    {"data":{"name":"one"},"mark":{"type":"text","text":"Center 6.48500 GHz","fontSize":11,"fontWeight":"bold"},"encoding":{"x":{"datum":6441.025,"type":"quantitative","axis":null},"y":{"datum":-72.251,"type":"quantitative","axis":null}}},
    {"data":{"name":"one"},"mark":{"type":"text","text":"#Res BW 1.0 MHz","fontSize":11,"fontWeight":"bold"},"encoding":{"x":{"datum":6441.025,"type":"quantitative","axis":null},"y":{"datum":-76.752,"type":"quantitative","axis":null}}},
    {"data":{"name":"one"},"mark":{"type":"text","text":"#VBW 3.0 MHz*","fontSize":11,"fontWeight":"bold"},"encoding":{"x":{"datum":6471.501,"type":"quantitative","axis":null},"y":{"datum":-76.752,"type":"quantitative","axis":null}}},
    {"data":{"name":"one"},"mark":{"type":"text","text":"Span 80.00 MHz","align":"right","fontSize":11,"fontWeight":"bold"},"encoding":{"x":{"datum":6524.503,"type":"quantitative","axis":null},"y":{"datum":-72.251,"type":"quantitative","axis":null}}},
    {"data":{"name":"one"},"mark":{"type":"text","text":"Sweep  1.000 ms (1001 pts)","align":"right","fontSize":11,"fontWeight":"bold"},"encoding":{"x":{"datum":6524.503,"type":"quantitative","axis":null},"y":{"datum":-76.752,"type":"quantitative","axis":null}}},
    {"data":{"name":"one"},"mark":{"type":"rect","fill":"white","stroke":"#999","strokeWidth":0.8},"encoding":{"x":{"datum":6440.859,"type":"quantitative","axis":null},"x2":{"datum":6541.066},"y":{"datum":-80.772,"type":"quantitative","axis":null},"y2":{"datum":-85.274}}},
    {"data":{"name":"one"},"mark":{"type":"rule","color":"#999","strokeWidth":0.8},"encoding":{"x":{"datum":6443.012,"type":"quantitative","axis":null},"y":{"datum":-80.772,"type":"quantitative","axis":null},"y2":{"datum":-85.274}}},
    {"data":{"name":"one"},"mark":{"type":"rule","color":"#999","strokeWidth":0.8},"encoding":{"x":{"datum":6504.13,"type":"quantitative","axis":null},"y":{"datum":-80.772,"type":"quantitative","axis":null},"y2":{"datum":-85.274}}},
    {"data":{"name":"one"},"mark":{"type":"rule","color":"#999","strokeWidth":0.8},"encoding":{"x":{"datum":6508.437,"type":"quantitative","axis":null},"y":{"datum":-80.772,"type":"quantitative","axis":null},"y2":{"datum":-85.274}}},
    {"data":{"name":"one"},"mark":{"type":"text","text":"MSG","fontSize":5.5,"color":"#777"},"encoding":{"x":{"datum":6441.108,"type":"quantitative","axis":null},"y":{"datum":-83.183,"type":"quantitative","axis":null}}},
    {"data":{"name":"one"},"mark":{"type":"text","text":"STATUS","fontSize":5.5,"color":"#777"},"encoding":{"x":{"datum":6504.379,"type":"quantitative","axis":null},"y":{"datum":-83.183,"type":"quantitative","axis":null}}},
    {"data":{"name":"one"},"mark":{"type":"text","text":"MID CHANNEL CHAIN 0","align":"center","baseline":"alphabetic","fontSize":27,"fontWeight":"bold"},"encoding":{"x":{"datum":6490.6,"type":"quantitative","axis":null},"y":{"datum":-93.955,"type":"quantitative","axis":null}}},
    {"data":{"name":"markers"},"transform":[{"filter":"datum.chain == 0 && datum.mkr != '2'"}],"mark":{"type":"point","shape":"M0,-1L0.58,0L0,1L-0.58,0Z","size":225,"filled":true,"fill":"white","stroke":"#555","strokeWidth":1,"opacity":1,"yOffset":-7.5},"encoding":{"x":{"field":"freq","type":"quantitative","axis":null},"y":{"field":"dbm","type":"quantitative","axis":null}}},
    {"data":{"name":"markers"},"transform":[{"filter":"datum.chain == 0 && datum.mkr == '2'"}],"mark":{"type":"point","shape":"M0,-1L0.58,0L0,1L-0.58,0Z","size":225,"filled":true,"fill":"#2ed52e","stroke":"#1c6e1c","strokeWidth":1,"opacity":1,"yOffset":-7.5},"encoding":{"x":{"field":"freq","type":"quantitative","axis":null},"y":{"field":"dbm","type":"quantitative","axis":null}}},
    {"data":{"name":"markers"},"transform":[{"filter":"datum.chain == 0"}],"mark":{"type":"text","dx":7.5,"dy":-14.5,"color":"#f5a000","fontSize":10},"encoding":{"x":{"field":"freq","type":"quantitative","axis":null},"y":{"field":"dbm","type":"quantitative","axis":null},"text":{"field":"mkr"}}}
  ]
},
{
  "width": 483, "height": 311,
  "resolve": {"axis": {"x": "independent", "y": "independent"}},
  "layer": [
    {"data":{"name":"trace"},"transform":[{"filter":"datum.chain == 1"}],"mark":{"type":"line","color":"#f5a300","strokeWidth":1,"clip":true},
     "encoding":{
       "x":{"field":"freq","type":"quantitative","scale":{"domain":[6445,6525],"nice":false,"zero":false},"axis":{"title":null,"orient":"bottom","values":[6453,6461,6469,6477,6485,6493,6501,6509,6517],"grid":true,"labels":false,"ticks":false,"domain":false,"gridColor":"#a9a9a9","gridWidth":1}},
       "y":{"field":"dbm","type":"quantitative","scale":{"domain":[-70,30],"nice":false,"zero":false},"axis":{"title":null,"orient":"left","values":[-60,-50,-40,-30,-20,-10,0,10,20],"grid":true,"ticks":false,"domain":false,"gridColor":"#a9a9a9","gridWidth":1,"labelExpr":"datum.value == 0 ? '0.00' : (datum.value < 0 ? '-' : '') + format(abs(datum.value), '.1f')","labelColor":"#999","labelFontSize":7.5,"labelFont":"Liberation Sans","labelPadding":7}}
     }},
    {"data":{"name":"one"},"mark":{"type":"rect","fill":"white","opacity":0},"encoding":{"x":{"datum":6437.878,"type":"quantitative","axis":null},"x2":{"datum":6541.48},"y":{"datum":74.534,"type":"quantitative","axis":null},"y2":{"datum":-95.563}}},
    {"data":{"name":"one"},"mark":{"type":"rule","color":"black","strokeWidth":2},"encoding":{"x":{"datum":6437.878,"type":"quantitative","axis":null},"x2":{"datum":6541.314},"y":{"datum":70.997,"type":"quantitative","axis":null}}},
    {"data":{"name":"one"},"mark":{"type":"rule","color":"black","strokeWidth":1.5},"encoding":{"x":{"datum":6541.232,"type":"quantitative","axis":null},"y":{"datum":70.997,"type":"quantitative","axis":null},"y2":{"datum":-95.563}}},
    {"data":{"name":"one"},"mark":{"type":"rect","fill":"white","fillOpacity":0,"stroke":"#1a1a1a","strokeWidth":2.5},"encoding":{"x":{"datum":6440.694,"type":"quantitative","axis":null},"x2":{"datum":6540.652},"y":{"datum":60.064,"type":"quantitative","axis":null},"y2":{"datum":-85.595}}},
    {"data":{"name":"one"},"mark":{"type":"rect","fill":"#d3e0f1"},"encoding":{"x":{"datum":6440.859,"type":"quantitative","axis":null},"x2":{"datum":6540.486},"y":{"datum":59.743,"type":"quantitative","axis":null},"y2":{"datum":55.723}}},
    {"data":{"name":"one"},"mark":{"type":"rect","fill":"#6b6040"},"encoding":{"x":{"datum":6441.19,"type":"quantitative","axis":null},"x2":{"datum":6442.681},"y":{"datum":59.26,"type":"quantitative","axis":null},"y2":{"datum":56.367}}},
    {"data":{"name":"one"},"mark":{"type":"text","text":"Keysight Spectrum Analyzer - AP2022.8.16,85502,MOR-CON2","fontSize":7,"color":"#333"},"encoding":{"x":{"datum":6443.509,"type":"quantitative","axis":null},"y":{"datum":57.653,"type":"quantitative","axis":null}}},
    {"data":{"name":"one"},"mark":{"type":"rect","fill":"#cdd9ea","stroke":"#7f8ea3","strokeWidth":0.8},"encoding":{"x":{"datum":6530.797,"type":"quantitative","axis":null},"x2":{"datum":6533.447},"y":{"datum":59.421,"type":"quantitative","axis":null},"y2":{"datum":56.206}}},
    {"data":{"name":"one"},"mark":{"type":"rect","fill":"#cdd9ea","stroke":"#7f8ea3","strokeWidth":0.8},"encoding":{"x":{"datum":6533.778,"type":"quantitative","axis":null},"x2":{"datum":6536.428},"y":{"datum":59.421,"type":"quantitative","axis":null},"y2":{"datum":56.206}}},
    {"data":{"name":"one"},"mark":{"type":"rect","fill":"#d0584c","stroke":"#8b2a22","strokeWidth":0.8},"encoding":{"x":{"datum":6536.759,"type":"quantitative","axis":null},"x2":{"datum":6539.74},"y":{"datum":59.421,"type":"quantitative","axis":null},"y2":{"datum":56.206}}},
    {"data":{"name":"one"},"mark":{"type":"rect","fill":"white","stroke":"#b0b0b0","strokeWidth":0.8},"encoding":{"x":{"datum":6440.859,"type":"quantitative","axis":null},"x2":{"datum":6525.166},"y":{"datum":55.723,"type":"quantitative","axis":null},"y2":{"datum":52.508}}},
    {"data":{"name":"one"},"mark":{"type":"rect","fill":"#2bd62b"},"encoding":{"x":{"datum":6440.942,"type":"quantitative","axis":null},"x2":{"datum":6442.35},"y":{"datum":55.563,"type":"quantitative","axis":null},"y2":{"datum":52.991}}},
    {"data":{"name":"one"},"mark":{"type":"rule","color":"#b0b0b0","strokeWidth":0.8},"encoding":{"x":{"datum":6448.975,"type":"quantitative","axis":null},"y":{"datum":55.723,"type":"quantitative","axis":null},"y2":{"datum":52.508}}},
    {"data":{"name":"one"},"mark":{"type":"rule","color":"#b0b0b0","strokeWidth":0.8},"encoding":{"x":{"datum":6457.041,"type":"quantitative","axis":null},"y":{"datum":55.723,"type":"quantitative","axis":null},"y2":{"datum":52.508}}},
    {"data":{"name":"one"},"mark":{"type":"rule","color":"#b0b0b0","strokeWidth":0.8},"encoding":{"x":{"datum":6464.876,"type":"quantitative","axis":null},"y":{"datum":55.723,"type":"quantitative","axis":null},"y2":{"datum":52.508}}},
    {"data":{"name":"one"},"mark":{"type":"rule","color":"#b0b0b0","strokeWidth":0.8},"encoding":{"x":{"datum":6472.992,"type":"quantitative","axis":null},"y":{"datum":55.723,"type":"quantitative","axis":null},"y2":{"datum":52.508}}},
    {"data":{"name":"one"},"mark":{"type":"rule","color":"#b0b0b0","strokeWidth":0.8},"encoding":{"x":{"datum":6481.058,"type":"quantitative","axis":null},"y":{"datum":55.723,"type":"quantitative","axis":null},"y2":{"datum":52.508}}},
    {"data":{"name":"one"},"mark":{"type":"rule","color":"#b0b0b0","strokeWidth":0.8},"encoding":{"x":{"datum":6488.727,"type":"quantitative","axis":null},"y":{"datum":55.723,"type":"quantitative","axis":null},"y2":{"datum":52.508}}},
    {"data":{"name":"one"},"mark":{"type":"rule","color":"#b0b0b0","strokeWidth":0.8},"encoding":{"x":{"datum":6497.339,"type":"quantitative","axis":null},"y":{"datum":55.723,"type":"quantitative","axis":null},"y2":{"datum":52.508}}},
    {"data":{"name":"one"},"mark":{"type":"rule","color":"#b0b0b0","strokeWidth":0.8},"encoding":{"x":{"datum":6510.209,"type":"quantitative","axis":null},"y":{"datum":55.723,"type":"quantitative","axis":null},"y2":{"datum":52.508}}},
    {"data":{"name":"one"},"mark":{"type":"text","text":"RF","align":"center","fontSize":6.5,"color":"#666"},"encoding":{"x":{"datum":6452.619,"type":"quantitative","axis":null},"y":{"datum":54.116,"type":"quantitative","axis":null}}},
    {"data":{"name":"one"},"mark":{"type":"text","text":"50 Ω","align":"center","fontSize":6.5,"color":"#666"},"encoding":{"x":{"datum":6458.416,"type":"quantitative","axis":null},"y":{"datum":54.116,"type":"quantitative","axis":null}}},
    {"data":{"name":"one"},"mark":{"type":"text","text":"DC","align":"center","fontSize":6.5,"color":"#666"},"encoding":{"x":{"datum":6462.838,"type":"quantitative","axis":null},"y":{"datum":54.116,"type":"quantitative","axis":null}}},
    {"data":{"name":"one"},"mark":{"type":"text","text":"SENSE:INT","align":"center","fontSize":6.5,"color":"#666"},"encoding":{"x":{"datum":6485.414,"type":"quantitative","axis":null},"y":{"datum":54.116,"type":"quantitative","axis":null}}},
    {"data":{"name":"one"},"mark":{"type":"text","text":"ALIGN AUTO","align":"center","fontSize":6.5,"color":"#666"},"encoding":{"x":{"datum":6503.965,"type":"quantitative","axis":null},"y":{"datum":54.116,"type":"quantitative","axis":null}}},
    {"data":{"name":"one"},"mark":{"type":"text","text":"10:39:16 AM Jan 26, 2024","align":"center","fontSize":6.8,"color":"#222"},"encoding":{"x":{"datum":6517.546,"type":"quantitative","axis":null},"y":{"datum":54.116,"type":"quantitative","axis":null}}},
    {"data":{"name":"one"},"mark":{"type":"rect","fill":"#d0d0d0","stroke":"#606060","strokeWidth":1},"encoding":{"x":{"datum":6440.859,"type":"quantitative","axis":null},"x2":{"datum":6477.464},"y":{"datum":52.187,"type":"quantitative","axis":null},"y2":{"datum":47.363}}},
    {"data":{"name":"one"},"mark":{"type":"text","text":"Center Freq 6.485000000 GHz","fontSize":12.7,"fontWeight":"bold"},"encoding":{"x":{"datum":6441.19,"type":"quantitative","axis":null},"y":{"datum":49.775,"type":"quantitative","axis":null}}},
    {"data":{"name":"one"},"mark":{"type":"text","text":"PNO: Fast","fontSize":7.5},"encoding":{"x":{"datum":6467.691,"type":"quantitative","axis":null},"y":{"datum":46.077,"type":"quantitative","axis":null}}},
    {"data":{"name":"one"},"mark":{"type":"text","text":"→←","fontSize":6.5,"color":"#333"},"encoding":{"x":{"datum":6473.323,"type":"quantitative","axis":null},"y":{"datum":46.077,"type":"quantitative","axis":null}}},
    {"data":{"name":"one"},"mark":{"type":"text","text":"IFGain:Low","fontSize":7.5},"encoding":{"x":{"datum":6467.195,"type":"quantitative","axis":null},"y":{"datum":43.344,"type":"quantitative","axis":null}}},
    {"data":{"name":"one"},"mark":{"type":"text","text":"Trig: Free Run","fontSize":8.6,"fontWeight":"bold"},"encoding":{"x":{"datum":6478.623,"type":"quantitative","axis":null},"y":{"datum":47.203,"type":"quantitative","axis":null}}},
    {"data":{"name":"one"},"mark":{"type":"text","text":"#Atten: 30 dB","fontSize":8.6,"fontWeight":"bold"},"encoding":{"x":{"datum":6478.623,"type":"quantitative","axis":null},"y":{"datum":44.469,"type":"quantitative","axis":null}}},
    {"data":{"name":"one"},"mark":{"type":"text","text":"#Avg Type: RMS","fontSize":9,"fontWeight":"bold"},"encoding":{"x":{"datum":6494.027,"type":"quantitative","axis":null},"y":{"datum":50.418,"type":"quantitative","axis":null}}},
    {"data":{"name":"one"},"mark":{"type":"text","text":"Avg|Hold: 100/100","fontSize":9,"fontWeight":"bold"},"encoding":{"x":{"datum":6494.027,"type":"quantitative","axis":null},"y":{"datum":47.524,"type":"quantitative","axis":null}}},
    {"data":{"name":"one"},"mark":{"type":"text","text":"TRACE","align":"right","fontSize":5.5,"color":"#666"},"encoding":{"x":{"datum":6518.043,"type":"quantitative","axis":null},"y":{"datum":50.74,"type":"quantitative","axis":null}}},
    {"data":{"name":"one"},"mark":{"type":"text","text":"TYPE","align":"right","fontSize":5.5,"color":"#666"},"encoding":{"x":{"datum":6518.043,"type":"quantitative","axis":null},"y":{"datum":48.006,"type":"quantitative","axis":null}}},
    {"data":{"name":"one"},"mark":{"type":"text","text":"DET","align":"right","fontSize":5.5,"color":"#666"},"encoding":{"x":{"datum":6518.043,"type":"quantitative","axis":null},"y":{"datum":45.273,"type":"quantitative","axis":null}}},
    {"data":{"name":"one"},"mark":{"type":"rect","fill":"white","fillOpacity":0,"stroke":"#f0a000","strokeWidth":0.8},"encoding":{"x":{"datum":6518.126,"type":"quantitative","axis":null},"x2":{"datum":6519.037},"y":{"datum":52.026,"type":"quantitative","axis":null},"y2":{"datum":49.453}}},
    {"data":{"name":"one"},"mark":{"type":"text","text":"1","align":"center","fontSize":7,"fontWeight":"bold","color":"#f0a000"},"encoding":{"x":{"datum":6518.541,"type":"quantitative","axis":null},"y":{"datum":50.74,"type":"quantitative","axis":null}}},
    {"data":{"name":"one"},"mark":{"type":"text","text":"2","align":"center","fontSize":7,"fontWeight":"bold","color":"#00c8f0"},"encoding":{"x":{"datum":6519.617,"type":"quantitative","axis":null},"y":{"datum":50.74,"type":"quantitative","axis":null}}},
    {"data":{"name":"one"},"mark":{"type":"text","text":"3","align":"center","fontSize":7,"fontWeight":"bold","color":"#f000f0"},"encoding":{"x":{"datum":6520.694,"type":"quantitative","axis":null},"y":{"datum":50.74,"type":"quantitative","axis":null}}},
    {"data":{"name":"one"},"mark":{"type":"text","text":"4","align":"center","fontSize":7,"fontWeight":"bold","color":"#22cc22"},"encoding":{"x":{"datum":6521.77,"type":"quantitative","axis":null},"y":{"datum":50.74,"type":"quantitative","axis":null}}},
    {"data":{"name":"one"},"mark":{"type":"text","text":"5","align":"center","fontSize":7,"fontWeight":"bold","color":"#ff4080"},"encoding":{"x":{"datum":6522.847,"type":"quantitative","axis":null},"y":{"datum":50.74,"type":"quantitative","axis":null}}},
    {"data":{"name":"one"},"mark":{"type":"text","text":"6","align":"center","fontSize":7,"fontWeight":"bold","color":"#9040ff"},"encoding":{"x":{"datum":6523.923,"type":"quantitative","axis":null},"y":{"datum":50.74,"type":"quantitative","axis":null}}},
    {"data":{"name":"one"},"mark":{"type":"text","text":"A WWWWWW","fontSize":6,"color":"#555"},"encoding":{"x":{"datum":6518.292,"type":"quantitative","axis":null},"y":{"datum":48.006,"type":"quantitative","axis":null}}},
    {"data":{"name":"one"},"mark":{"type":"text","text":"A","fontSize":6,"color":"#333"},"encoding":{"x":{"datum":6518.292,"type":"quantitative","axis":null},"y":{"datum":45.273,"type":"quantitative","axis":null}}},
    {"data":{"name":"one"},"mark":{"type":"text","text":"N N N N N","fontSize":6,"fontWeight":"bold","color":"#22bb22"},"encoding":{"x":{"datum":6519.203,"type":"quantitative","axis":null},"y":{"datum":45.273,"type":"quantitative","axis":null}}},
    {"data":{"name":"one"},"mark":{"type":"rect","fill":"white","fillOpacity":0,"stroke":"#00dd00","strokeWidth":2.5},"encoding":{"x":{"datum":6440.859,"type":"quantitative","axis":null},"x2":{"datum":6524.834},"y":{"datum":40.772,"type":"quantitative","axis":null},"y2":{"datum":-80.128}}},
    {"data":{"name":"one"},"mark":{"type":"text","text":"Ref Offset 13.36 dB","fontSize":9.5},"encoding":{"x":{"datum":6450.714,"type":"quantitative","axis":null},"y":{"datum":36.109,"type":"quantitative","axis":null}}},
    {"data":{"name":"one"},"mark":{"type":"text","text":"Ref 30.00 dBm","fontSize":11,"fontWeight":"bold"},"encoding":{"x":{"datum":6450.714,"type":"quantitative","axis":null},"y":{"datum":32.733,"type":"quantitative","axis":null}}},
    {"data":{"name":"one"},"mark":{"type":"text","text":"10 dB/div","fontSize":8.8,"color":"#888"},"encoding":{"x":{"datum":6441.025,"type":"quantitative","axis":null},"y":{"datum":32.894,"type":"quantitative","axis":null}}},
    {"data":{"name":"one"},"mark":{"type":"text","text":"Log","fontSize":8.8,"color":"#888"},"encoding":{"x":{"datum":6441.025,"type":"quantitative","axis":null},"y":{"datum":29.839,"type":"quantitative","axis":null}}},
    {"data":{"name":"one"},"mark":{"type":"text","text":"Mkr2 6.480 44 GHz","align":"right","fontSize":14,"fontWeight":"bold","color":"#33dd33"},"encoding":{"x":{"datum":6524.503,"type":"quantitative","axis":null},"y":{"datum":38.36,"type":"quantitative","axis":null}}},
    {"data":{"name":"one"},"mark":{"type":"text","text":"-10.591 dBm","align":"right","fontSize":14,"fontWeight":"bold","color":"#33dd33"},"encoding":{"x":{"datum":6524.503,"type":"quantitative","axis":null},"y":{"datum":33.537,"type":"quantitative","axis":null}}},
    {"data":{"name":"one"},"mark":{"type":"rect","fill":"white","stroke":"#3a3a3a","strokeWidth":1.5},"encoding":{"x":{"datum":6525.083,"type":"quantitative","axis":null},"x2":{"datum":6540.239},"y":{"datum":55.016,"type":"quantitative","axis":null},"y2":{"datum":47.524}}},
    {"data":{"name":"one"},"mark":{"type":"rect","fill":"white","stroke":"#3a3a3a","strokeWidth":1.5},"encoding":{"x":{"datum":6525.083,"type":"quantitative","axis":null},"x2":{"datum":6540.239},"y":{"datum":47.524,"type":"quantitative","axis":null},"y2":{"datum":32.508}}},
    {"data":{"name":"one"},"mark":{"type":"rect","fill":"#e2e2e2","stroke":"#888","strokeWidth":1},"encoding":{"x":{"datum":6525.083,"type":"quantitative","axis":null},"x2":{"datum":6540.239},"y":{"datum":32.251,"type":"quantitative","axis":null},"y2":{"datum":29.743}}},
    {"data":{"name":"one"},"mark":{"type":"rect","fill":"white","stroke":"#3a3a3a","strokeWidth":1.5},"encoding":{"x":{"datum":6525.083,"type":"quantitative","axis":null},"x2":{"datum":6540.239},"y":{"datum":29.518,"type":"quantitative","axis":null},"y2":{"datum":14.502}}},
    {"data":{"name":"one"},"mark":{"type":"rect","fill":"#e2e2e2","stroke":"#888","strokeWidth":1},"encoding":{"x":{"datum":6525.083,"type":"quantitative","axis":null},"x2":{"datum":6540.239},"y":{"datum":14.244,"type":"quantitative","axis":null},"y2":{"datum":11.833}}},
    {"data":{"name":"one"},"mark":{"type":"rect","fill":"white","stroke":"#3a3a3a","strokeWidth":1.5},"encoding":{"x":{"datum":6525.083,"type":"quantitative","axis":null},"x2":{"datum":6540.239},"y":{"datum":11.511,"type":"quantitative","axis":null},"y2":{"datum":-3.698}}},
    {"data":{"name":"one"},"mark":{"type":"rect","fill":"#e2e2e2","stroke":"#888","strokeWidth":1},"encoding":{"x":{"datum":6525.083,"type":"quantitative","axis":null},"x2":{"datum":6540.239},"y":{"datum":-3.923,"type":"quantitative","axis":null},"y2":{"datum":-6.174}}},
    {"data":{"name":"one"},"mark":{"type":"rect","fill":"white","stroke":"#3a3a3a","strokeWidth":1.5},"encoding":{"x":{"datum":6525.083,"type":"quantitative","axis":null},"x2":{"datum":6540.239},"y":{"datum":-6.399,"type":"quantitative","axis":null},"y2":{"datum":-21.704}}},
    {"data":{"name":"one"},"mark":{"type":"rect","fill":"#e2e2e2","stroke":"#888","strokeWidth":1},"encoding":{"x":{"datum":6525.083,"type":"quantitative","axis":null},"x2":{"datum":6540.239},"y":{"datum":-21.929,"type":"quantitative","axis":null},"y2":{"datum":-24.18}}},
    {"data":{"name":"one"},"mark":{"type":"rect","fill":"white","stroke":"#3a3a3a","strokeWidth":1.5},"encoding":{"x":{"datum":6525.083,"type":"quantitative","axis":null},"x2":{"datum":6540.239},"y":{"datum":-24.276,"type":"quantitative","axis":null},"y2":{"datum":-39.389}}},
    {"data":{"name":"one"},"mark":{"type":"rect","fill":"#e2e2e2","stroke":"#888","strokeWidth":1},"encoding":{"x":{"datum":6525.083,"type":"quantitative","axis":null},"x2":{"datum":6540.239},"y":{"datum":-39.614,"type":"quantitative","axis":null},"y2":{"datum":-42.186}}},
    {"data":{"name":"one"},"mark":{"type":"rect","fill":"white","stroke":"#3a3a3a","strokeWidth":1.5},"encoding":{"x":{"datum":6525.083,"type":"quantitative","axis":null},"x2":{"datum":6540.239},"y":{"datum":-42.283,"type":"quantitative","axis":null},"y2":{"datum":-57.299}}},
    {"data":{"name":"one"},"mark":{"type":"rect","fill":"#e2e2e2","stroke":"#888","strokeWidth":1},"encoding":{"x":{"datum":6525.083,"type":"quantitative","axis":null},"x2":{"datum":6540.239},"y":{"datum":-57.621,"type":"quantitative","axis":null},"y2":{"datum":-60.193}}},
    {"data":{"name":"one"},"mark":{"type":"rect","fill":"white","stroke":"#3a3a3a","strokeWidth":1.5},"encoding":{"x":{"datum":6525.083,"type":"quantitative","axis":null},"x2":{"datum":6540.239},"y":{"datum":-60.289,"type":"quantitative","axis":null},"y2":{"datum":-79.807}}},
    {"data":{"name":"one"},"mark":{"type":"text","text":"Frequency","align":"center","fontSize":9.5},"encoding":{"x":{"datum":6532.702,"type":"quantitative","axis":null},"y":{"datum":51.286,"type":"quantitative","axis":null}}},
    {"data":{"name":"one"},"mark":{"type":"text","text":"Auto Tune","align":"right","fontSize":10.5,"fontWeight":"bold"},"encoding":{"x":{"datum":6539.989,"type":"quantitative","axis":null},"y":{"datum":39.711,"type":"quantitative","axis":null}}},
    {"data":{"name":"one"},"mark":{"type":"text","text":"Center Freq","align":"right","fontSize":10,"fontWeight":"bold"},"encoding":{"x":{"datum":6539.989,"type":"quantitative","axis":null},"y":{"datum":24.694,"type":"quantitative","axis":null}}},
    {"data":{"name":"one"},"mark":{"type":"text","text":"6.485000000 GHz","align":"right","fontSize":8.5},"encoding":{"x":{"datum":6539.989,"type":"quantitative","axis":null},"y":{"datum":18.81,"type":"quantitative","axis":null}}},
    {"data":{"name":"one"},"mark":{"type":"text","text":"Start Freq","align":"right","fontSize":10,"fontWeight":"bold"},"encoding":{"x":{"datum":6539.989,"type":"quantitative","axis":null},"y":{"datum":6.785,"type":"quantitative","axis":null}}},
    {"data":{"name":"one"},"mark":{"type":"text","text":"6.445000000 GHz","align":"right","fontSize":8.5},"encoding":{"x":{"datum":6539.989,"type":"quantitative","axis":null},"y":{"datum":0.804,"type":"quantitative","axis":null}}},
    {"data":{"name":"one"},"mark":{"type":"text","text":"Stop Freq","align":"right","fontSize":10,"fontWeight":"bold"},"encoding":{"x":{"datum":6539.989,"type":"quantitative","axis":null},"y":{"datum":-10.997,"type":"quantitative","axis":null}}},
    {"data":{"name":"one"},"mark":{"type":"text","text":"6.525000000 GHz","align":"right","fontSize":8.5},"encoding":{"x":{"datum":6539.989,"type":"quantitative","axis":null},"y":{"datum":-16.785,"type":"quantitative","axis":null}}},
    {"data":{"name":"one"},"mark":{"type":"text","text":"CF Step","align":"right","fontSize":10,"fontWeight":"bold"},"encoding":{"x":{"datum":6539.989,"type":"quantitative","axis":null},"y":{"datum":-28.36,"type":"quantitative","axis":null}}},
    {"data":{"name":"one"},"mark":{"type":"text","text":"8.000000 MHz","align":"right","fontSize":8.5},"encoding":{"x":{"datum":6539.989,"type":"quantitative","axis":null},"y":{"datum":-32.315,"type":"quantitative","axis":null}}},
    {"data":{"name":"one"},"mark":{"type":"text","text":"Auto","fontSize":8.5},"encoding":{"x":{"datum":6525.331,"type":"quantitative","axis":null},"y":{"datum":-36.077,"type":"quantitative","axis":null}}},
    {"data":{"name":"one"},"mark":{"type":"rule","color":"black","strokeWidth":0.8},"encoding":{"x":{"datum":6525.331,"type":"quantitative","axis":null},"x2":{"datum":6528.23},"y":{"datum":-37.524,"type":"quantitative","axis":null}}},
    {"data":{"name":"one"},"mark":{"type":"text","text":"Man","align":"right","fontSize":8.5},"encoding":{"x":{"datum":6539.989,"type":"quantitative","axis":null},"y":{"datum":-36.077,"type":"quantitative","axis":null}}},
    {"data":{"name":"one"},"mark":{"type":"text","text":"Freq Offset","align":"right","fontSize":10,"fontWeight":"bold"},"encoding":{"x":{"datum":6539.989,"type":"quantitative","axis":null},"y":{"datum":-47.106,"type":"quantitative","axis":null}}},
    {"data":{"name":"one"},"mark":{"type":"text","text":"0 Hz","align":"right","fontSize":8.5},"encoding":{"x":{"datum":6539.989,"type":"quantitative","axis":null},"y":{"datum":-53.022,"type":"quantitative","axis":null}}},
    {"data":{"name":"one"},"mark":{"type":"text","text":"Center 6.48500 GHz","fontSize":11,"fontWeight":"bold"},"encoding":{"x":{"datum":6441.025,"type":"quantitative","axis":null},"y":{"datum":-72.251,"type":"quantitative","axis":null}}},
    {"data":{"name":"one"},"mark":{"type":"text","text":"#Res BW 1.0 MHz","fontSize":11,"fontWeight":"bold"},"encoding":{"x":{"datum":6441.025,"type":"quantitative","axis":null},"y":{"datum":-76.752,"type":"quantitative","axis":null}}},
    {"data":{"name":"one"},"mark":{"type":"text","text":"#VBW 3.0 MHz*","fontSize":11,"fontWeight":"bold"},"encoding":{"x":{"datum":6471.501,"type":"quantitative","axis":null},"y":{"datum":-76.752,"type":"quantitative","axis":null}}},
    {"data":{"name":"one"},"mark":{"type":"text","text":"Span 80.00 MHz","align":"right","fontSize":11,"fontWeight":"bold"},"encoding":{"x":{"datum":6524.42,"type":"quantitative","axis":null},"y":{"datum":-72.251,"type":"quantitative","axis":null}}},
    {"data":{"name":"one"},"mark":{"type":"text","text":"Sweep  1.000 ms (1001 pts)","align":"right","fontSize":11,"fontWeight":"bold"},"encoding":{"x":{"datum":6524.42,"type":"quantitative","axis":null},"y":{"datum":-76.752,"type":"quantitative","axis":null}}},
    {"data":{"name":"one"},"mark":{"type":"rect","fill":"white","stroke":"#999","strokeWidth":0.8},"encoding":{"x":{"datum":6440.859,"type":"quantitative","axis":null},"x2":{"datum":6540.486},"y":{"datum":-80.772,"type":"quantitative","axis":null},"y2":{"datum":-85.274}}},
    {"data":{"name":"one"},"mark":{"type":"rule","color":"#999","strokeWidth":0.8},"encoding":{"x":{"datum":6443.012,"type":"quantitative","axis":null},"y":{"datum":-80.772,"type":"quantitative","axis":null},"y2":{"datum":-85.274}}},
    {"data":{"name":"one"},"mark":{"type":"rule","color":"#999","strokeWidth":0.8},"encoding":{"x":{"datum":6504.13,"type":"quantitative","axis":null},"y":{"datum":-80.772,"type":"quantitative","axis":null},"y2":{"datum":-85.274}}},
    {"data":{"name":"one"},"mark":{"type":"rule","color":"#999","strokeWidth":0.8},"encoding":{"x":{"datum":6508.437,"type":"quantitative","axis":null},"y":{"datum":-80.772,"type":"quantitative","axis":null},"y2":{"datum":-85.274}}},
    {"data":{"name":"one"},"mark":{"type":"text","text":"MSG","fontSize":5.5,"color":"#777"},"encoding":{"x":{"datum":6441.108,"type":"quantitative","axis":null},"y":{"datum":-83.183,"type":"quantitative","axis":null}}},
    {"data":{"name":"one"},"mark":{"type":"text","text":"STATUS","fontSize":5.5,"color":"#777"},"encoding":{"x":{"datum":6504.379,"type":"quantitative","axis":null},"y":{"datum":-83.183,"type":"quantitative","axis":null}}},
    {"data":{"name":"one"},"mark":{"type":"text","text":"MID CHANNEL CHAIN 1","align":"center","baseline":"alphabetic","fontSize":27,"fontWeight":"bold"},"encoding":{"x":{"datum":6490.6,"type":"quantitative","axis":null},"y":{"datum":-93.955,"type":"quantitative","axis":null}}},
    {"data":{"name":"markers"},"transform":[{"filter":"datum.chain == 1 && datum.mkr != '2'"}],"mark":{"type":"point","shape":"M0,-1L0.58,0L0,1L-0.58,0Z","size":225,"filled":true,"fill":"white","stroke":"#555","strokeWidth":1,"opacity":1,"yOffset":-7.5},"encoding":{"x":{"field":"freq","type":"quantitative","axis":null},"y":{"field":"dbm","type":"quantitative","axis":null}}},
    {"data":{"name":"markers"},"transform":[{"filter":"datum.chain == 1 && datum.mkr == '2'"}],"mark":{"type":"point","shape":"M0,-1L0.58,0L0,1L-0.58,0Z","size":225,"filled":true,"fill":"#2ed52e","stroke":"#1c6e1c","strokeWidth":1,"opacity":1,"yOffset":-7.5},"encoding":{"x":{"field":"freq","type":"quantitative","axis":null},"y":{"field":"dbm","type":"quantitative","axis":null}}},
    {"data":{"name":"markers"},"transform":[{"filter":"datum.chain == 1"}],"mark":{"type":"text","dx":7.5,"dy":-14.5,"color":"#f5a000","fontSize":10},"encoding":{"x":{"field":"freq","type":"quantitative","axis":null},"y":{"field":"dbm","type":"quantitative","axis":null},"text":{"field":"mkr"}}}
  ]
}
]
}
